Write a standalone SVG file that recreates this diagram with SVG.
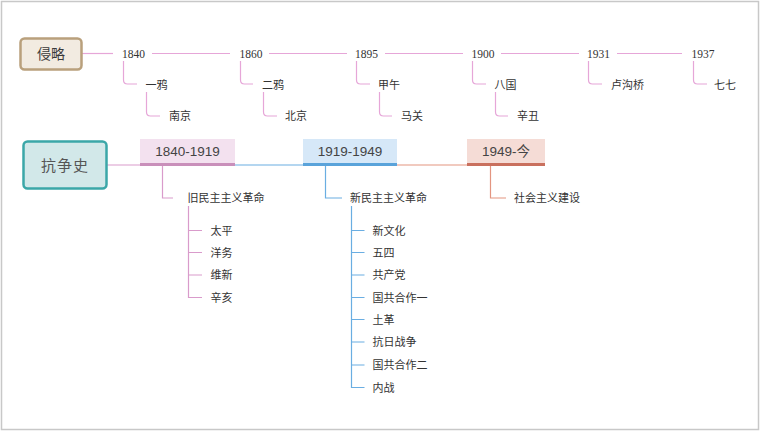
<svg xmlns="http://www.w3.org/2000/svg" width="760" height="432" viewBox="0 0 760 432">
<style>
.t{font-family:"Liberation Sans","Noto Sans CJK SC",sans-serif;font-size:11px;fill:#333;dominant-baseline:central}
.y{font-family:"Liberation Serif","Noto Sans CJK SC",serif;font-size:11.5px;fill:#333;dominant-baseline:central}
.b{font-family:"Liberation Sans","Noto Sans CJK SC",sans-serif;font-size:13.5px;fill:#444;dominant-baseline:central;text-anchor:middle}
.pk{fill:none;stroke:#e6a6d8;stroke-width:1.2}
.pk2{fill:none;stroke:#d99bcb;stroke-width:1.2}
.bl{fill:none;stroke:#6aaee2;stroke-width:1.2}
.sa{fill:none;stroke:#e39580;stroke-width:1.2}
</style>
<rect x="1.5" y="1.5" width="757" height="428" fill="#fff" stroke="#c8c8c8" stroke-width="1.5"/>
<g id="connectors">
<path class="pk" d="M82,53.5H113"/>
<path class="pk" d="M152,53.5H230M269,53.5H347M385,53.5H463M501,53.5H579M617,53.5H682"/>
<path class="pk" d="M123.5,61V80Q123.5,84 127.5,84H137"/>
<path class="pk" d="M146.5,92V112Q146.5,116 150.5,116H160"/>
<path class="pk" d="M240.5,61V80Q240.5,84 244.5,84H253"/>
<path class="pk" d="M263.5,92V112Q263.5,116 267.5,116H277"/>
<path class="pk" d="M356.5,61V80Q356.5,84 360.5,84H370"/>
<path class="pk" d="M379.5,92V112Q379.5,116 383.5,116H392"/>
<path class="pk" d="M472.5,61V80Q472.5,84 476.5,84H486"/>
<path class="pk" d="M495.5,92V112Q495.5,116 499.5,116H508"/>
<path class="pk" d="M588.5,61V80Q588.5,84 592.5,84H602"/>
<path class="pk" d="M693.5,61V80Q693.5,84 697.5,84H707"/>
<path class="pk2" d="M107,165H140"/>
<path class="bl" d="M235,165H303"/>
<path class="sa" d="M397,165H467"/>
<path class="pk2" d="M162.5,166V198H173"/>
<path class="pk2" d="M188.5,206V297.5H202M188.5,230.5H202M188.5,252.5H202M188.5,275H202"/>
<path class="bl" d="M325.5,166V198H342"/>
<path class="bl" d="M351.5,206V387.5H364.5M351.5,230.5H364.5M351.5,252.5H364.5M351.5,275H364.5M351.5,297.5H364.5M351.5,319.5H364.5M351.5,342H364.5M351.5,365H364.5"/>
<path class="sa" d="M490.5,166V198H506"/>
</g>
<g id="n-qinlue">
<rect x="20.5" y="38.5" width="61" height="31" rx="4" fill="#f2ebe1" stroke="#b9a07c" stroke-width="2.5"/>
<text x="51" y="54" class="b" style="font-size:14px;fill:#3a3a3a">侵略</text>
</g>
<g id="n-1840"><text x="122" y="53.5" class="y">1840</text></g>
<g id="n-yiya"><text x="145.5" y="84.5" class="t">一鸦</text></g>
<g id="n-nanjing"><text x="169" y="116" class="t">南京</text></g>
<g id="n-1860"><text x="239.5" y="53.5" class="y">1860</text></g>
<g id="n-erya"><text x="262" y="84.5" class="t">二鸦</text></g>
<g id="n-beijing"><text x="285" y="116" class="t">北京</text></g>
<g id="n-1895"><text x="355" y="53.5" class="y">1895</text></g>
<g id="n-jiawu"><text x="378" y="84.5" class="t">甲午</text></g>
<g id="n-maguan"><text x="401" y="116" class="t">马关</text></g>
<g id="n-1900"><text x="471.5" y="53.5" class="y">1900</text></g>
<g id="n-baguo"><text x="494.5" y="84.5" class="t">八国</text></g>
<g id="n-xinchou"><text x="517" y="116" class="t">辛丑</text></g>
<g id="n-1931"><text x="587" y="53.5" class="y">1931</text></g>
<g id="n-lugouqiao"><text x="611" y="84.5" class="t">卢沟桥</text></g>
<g id="n-1937"><text x="691.5" y="53.5" class="y">1937</text></g>
<g id="n-qiqi"><text x="714" y="84.5" class="t">七七</text></g>
<g id="n-kangzhengshi">
<rect x="23.5" y="141.5" width="83" height="47" rx="4" fill="#d2e8e9" stroke="#3ba7a8" stroke-width="2.5"/>
<text x="65" y="165" class="b" style="font-size:15px;fill:#555;letter-spacing:1px">抗争史</text>
</g>
<g id="n-p1">
<rect x="140" y="139" width="95" height="26" fill="#f3e1ef"/>
<rect x="140" y="163" width="95" height="3" fill="#c98fba"/>
<text x="187.5" y="151.5" class="b">1840-1919</text>
</g>
<g id="n-p2">
<rect x="303" y="139" width="94" height="26" fill="#d6e8f8"/>
<rect x="303" y="163" width="94" height="3" fill="#5aa3da"/>
<text x="350" y="151.5" class="b">1919-1949</text>
</g>
<g id="n-p3">
<rect x="467" y="139" width="78" height="26" fill="#f5dcd6"/>
<rect x="467" y="163" width="78" height="3" fill="#c9705e"/>
<text x="506" y="151.5" class="b">1949-今</text>
</g>
<g id="n-jiuminzhu"><text x="187.5" y="198" class="t">旧民主主义革命</text></g>
<g id="n-taiping"><text x="210.5" y="230.5" class="t">太平</text></g>
<g id="n-yangwu"><text x="210.5" y="252.5" class="t">洋务</text></g>
<g id="n-weixin"><text x="210.5" y="275" class="t">维新</text></g>
<g id="n-xinhai"><text x="210.5" y="297.5" class="t">辛亥</text></g>
<g id="n-xinminzhu"><text x="350" y="198" class="t">新民主主义革命</text></g>
<g id="n-xinwenhua"><text x="372.5" y="230.5" class="t">新文化</text></g>
<g id="n-wusi"><text x="372.5" y="252.5" class="t">五四</text></g>
<g id="n-gongchandang"><text x="372.5" y="275" class="t">共产党</text></g>
<g id="n-guogong1"><text x="372.5" y="297.5" class="t">国共合作一</text></g>
<g id="n-tuge"><text x="372.5" y="319.5" class="t">土革</text></g>
<g id="n-kangri"><text x="372.5" y="342" class="t">抗日战争</text></g>
<g id="n-guogong2"><text x="372.5" y="365" class="t">国共合作二</text></g>
<g id="n-neizhan"><text x="372.5" y="387.5" class="t">内战</text></g>
<g id="n-shehuizhuyi"><text x="514" y="198" class="t">社会主义建设</text></g>
</svg>
